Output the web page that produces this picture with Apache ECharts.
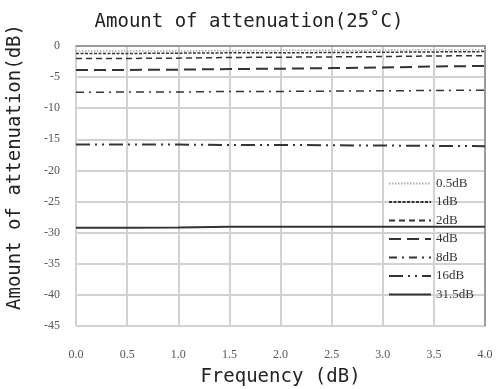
<!DOCTYPE html>
<html>
<head>
<meta charset="utf-8">
<script src="https://cdn.jsdelivr.net/npm/echarts@6/dist/echarts.min.js"></script>
<style>
  html, body { margin: 0; padding: 0; background: #fff; }
  #main { width: 498px; height: 389px; }
</style>
</head>
<body>
<div id="main"></div>
<script>
// frequency points
var freq = [0, 0.5, 1.0, 1.5, 2.0, 2.5, 3.0, 3.5, 4.0]

// attenuation readings (dB)
var att05 = [-0.8, -0.8, -0.8, -0.75, -0.7, -0.7, -0.65, -0.6, -0.6]
var att1 = [-1.2, -1.2, -1.15, -1.1, -1.1, -1.05, -1.0, -0.95, -0.9]
var att2 = [-2.0, -2.0, -1.95, -1.85, -1.8, -1.75, -1.7, -1.6, -1.55]
var att4 = [-3.85, -3.85, -3.8, -3.7, -3.65, -3.55, -3.45, -3.3, -3.2]
var att8 = [-7.45, -7.4, -7.4, -7.3, -7.3, -7.25, -7.2, -7.15, -7.1]
var att16 = [-15.85, -15.85, -15.85, -15.9, -15.9, -15.95, -16.0, -16.05, -16.1]
var att315 = [-29.2, -29.2, -29.15, -29.05, -29.05, -29.05, -29.05, -29.05, -29.05]

var seriesNames = ['0.5dB', '1dB', '2dB', '4dB', '8dB', '16dB', '31.5dB']

function pairs (ys) {
  return freq.map(function (x, i) { return [x, ys[i]] })
}

function mkLine (name, ys, color, width, dash) {
  return {
    name: name,
    type: 'line',
    data: pairs(ys),
    symbol: 'none',
    smooth: false,
    lineStyle: { color: color, width: width, type: dash },
    itemStyle: { color: color }
  }
}

var monoFont = '"DejaVu Sans Mono", monospace'
var serifFont = '"Liberation Serif", "DejaVu Serif", serif'

var myChart = echarts.init(document.getElementById('main'))
myChart.setOption({
  animation: false,
  title: {
    text: 'Amount of attenuation(25\u02daC)',
    left: 'center',
    top: 8,
    textStyle: { fontFamily: monoFont, fontSize: 19, fontWeight: 'normal', color: '#222' }
  },
  grid: {
    left: 76,
    right: 13,
    top: 46,
    bottom: 63,
    outerBoundsMode: 'none'
  },
  legend: {
    orient: 'vertical',
    left: 383,
    top: 172,
    itemWidth: 42,
    itemHeight: 10,
    itemGap: 5.5,
    data: seriesNames,
    itemStyle: { opacity: 0 },
    textStyle: { fontFamily: serifFont, fontSize: 13, color: '#333', lineHeight: 12.5 }
  },
  graphic: [{
    type: 'text',
    rotation: Math.PI / 2,
    x: 15,
    y: 167,
    style: {
      text: 'Amount of attenuation(dB)',
      font: '19px ' + monoFont,
      fill: '#222',
      align: 'center',
      verticalAlign: 'middle'
    }
  }],
  xAxis: {
    type: 'value',
    min: 0,
    max: 4,
    interval: 0.5,
    name: 'Frequency (dB)',
    nameLocation: 'middle',
    nameGap: 42,
    nameTextStyle: { fontFamily: monoFont, fontSize: 19, color: '#222' },
    axisLine: { show: true, lineStyle: { color: '#888', width: 1.5 } },
    axisTick: { show: false },
    axisLabel: {
      margin: 23,
      fontFamily: serifFont,
      fontSize: 12,
      color: '#555',
      formatter: function (v) { return v.toFixed(1) }
    },
    splitLine: { show: true, lineStyle: { color: '#d2d2d2', width: 2 } }
  },
  yAxis: [{
    type: 'value',
    min: -45,
    max: 0,
    interval: 5,
    axisLine: { show: false },
    axisTick: { show: false },
    axisLabel: { margin: 16, fontFamily: serifFont, fontSize: 12, color: '#555' },
    splitLine: { show: true, lineStyle: { color: '#d2d2d2', width: 2 } }
  }, {
    type: 'value',
    min: -45,
    max: 0,
    interval: 5,
    position: 'right',
    axisLine: { show: true, lineStyle: { color: '#888', width: 1.5 } },
    axisTick: { show: false },
    axisLabel: { show: false },
    splitLine: { show: false }
  }],
  series: [
    mkLine('0.5dB', att05, '#aaaaaa', 1.5, [1.5, 1.5]),
    mkLine('1dB', att1, '#333333', 1.5, [3, 1.5]),
    mkLine('2dB', att2, '#333333', 1.5, [6, 4]),
    mkLine('4dB', att4, '#333333', 2, [12, 6]),
    mkLine('8dB', att8, '#333333', 1.5, [8, 5, 2, 5]),
    mkLine('16dB', att16, '#333333', 2, [14, 5, 2, 5, 2, 5]),
    mkLine('31.5dB', att315, '#333333', 2, 'solid')
  ]
})
</script>
</body>
</html>
